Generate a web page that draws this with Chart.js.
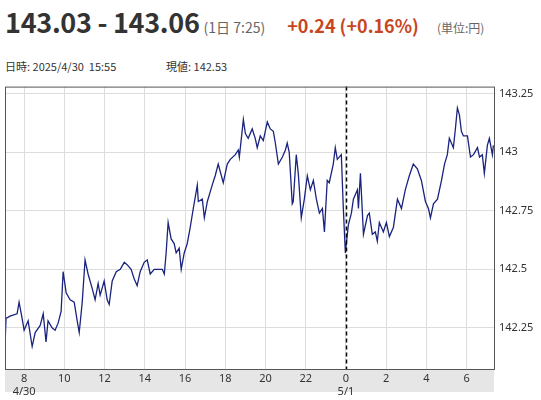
<!DOCTYPE html>
<html>
<head>
<meta charset="utf-8">
<script src="https://cdn.jsdelivr.net/npm/chart.js@4"></script>
<style>
  body { margin: 0; width: 541px; height: 400px; background: #fff; font-family: "Noto Sans CJK JP", "Noto Sans", sans-serif; position: relative; overflow: hidden; }
  .head { position: absolute; left: 5px; top: 2px; white-space: nowrap; }
  .price { font-size: 27px; font-weight: bold; color: #333; letter-spacing: -0.3px; }
  .time { font-size: 14px; color: #666; margin-left: 4px; }
  .chg { font-size: 18px; font-weight: bold; color: #c8461e; margin-left: 22px; }
  .unit { font-size: 12px; color: #666; margin-left: 18px; }
  .info { position: absolute; top: 58px; font-size: 11px; color: #333; }
  #wrap { position: absolute; left: 0; top: 75px; width: 541px; height: 320px; }
</style>
</head>
<body>
<div class="head"><span class="price">143.03 - 143.06</span><span class="time">(1日 7:25)</span><span class="chg">+0.24 (+0.16%)</span><span class="unit">(単位:円)</span></div>
<div class="info" style="left:5px">日時: 2025/4/30&nbsp; 15:55</div>
<div class="info" style="left:166px">現値: 142.53</div>
<div id="wrap"><canvas id="c"></canvas></div>
<script>
// hours since 4/30 00:00 (values > 24 are 5/1)
const hours = [7.05,7.10,7.30,7.65,7.75,7.90,8.00,8.20,8.40,8.55,8.80,8.95,9.09,9.19,9.39,9.54,9.69,9.84,9.94,10.09,10.29,10.49,10.64,10.74,10.89,11.03,11.18,11.38,11.53,11.68,11.78,11.98,12.13,12.23,12.38,12.58,12.78,12.98,13.12,13.32,13.47,13.62,13.77,13.97,14.12,14.27,14.47,14.67,14.87,14.97,15.06,15.16,15.31,15.46,15.56,15.71,15.81,15.96,16.11,16.26,16.41,16.61,16.66,16.86,16.96,17.11,17.35,17.50,17.65,17.90,18.10,18.25,18.50,18.65,18.70,18.90,19.00,19.14,19.34,19.49,19.59,19.74,19.89,20.09,20.24,20.39,20.49,20.64,20.84,20.99,21.08,21.18,21.33,21.38,21.53,21.63,21.78,21.93,22.08,22.23,22.38,22.53,22.68,22.83,22.93,23.07,23.17,23.37,23.47,23.57,23.77,23.87,23.97,24.12,24.27,24.37,24.57,24.62,24.72,24.87,25.07,25.16,25.31,25.46,25.56,25.66,25.86,26.01,26.16,26.36,26.56,26.76,26.95,27.15,27.35,27.55,27.75,27.95,28.10,28.20,28.35,28.55,28.75,28.90,29.04,29.14,29.34,29.44,29.54,29.64,29.74,29.84,30.04,30.19,30.34,30.54,30.64,30.78,30.88,31.03,31.13,31.28,31.33];
const prices = [142.17,142.29,142.30,142.31,142.36,142.29,142.24,142.28,142.17,142.23,142.26,142.31,142.19,142.28,142.25,142.24,142.27,142.32,142.49,142.40,142.37,142.36,142.28,142.23,142.36,142.54,142.48,142.42,142.37,142.44,142.39,142.45,142.37,142.35,142.45,142.49,142.50,142.53,142.52,142.50,142.46,142.43,142.49,142.53,142.54,142.48,142.50,142.50,142.50,142.48,142.57,142.70,142.63,142.61,142.57,142.59,142.50,142.57,142.61,142.68,142.76,142.86,142.79,142.80,142.72,142.79,142.86,142.90,142.95,142.87,142.95,142.97,142.99,143.01,142.98,143.14,143.08,143.06,143.10,143.06,143.02,143.07,143.05,143.13,143.10,143.09,143.04,142.95,142.98,143.01,143.04,143.00,142.78,142.79,142.99,142.91,142.72,142.80,142.90,142.84,142.88,142.80,142.74,142.76,142.66,142.88,142.87,142.95,143.02,142.97,142.99,142.76,142.57,142.69,142.74,142.80,142.84,142.76,142.91,142.65,142.73,142.74,142.65,142.66,142.62,142.70,142.66,142.70,142.64,142.68,142.80,142.76,142.84,142.90,142.95,142.93,142.88,142.79,142.76,142.72,142.78,142.80,142.88,142.95,142.99,143.06,143.02,143.10,143.19,143.16,143.09,143.07,143.07,142.98,142.99,143.02,142.98,142.99,142.91,143.03,143.06,142.99,143.03];
const dateLabels = { 8: "4/30", 24: "5/1" };
const priceTicks = [142.25, 142.5, 142.75, 143, 143.25];

const frame = {
  id: "frame",
  beforeDraw(chart) {
    const { ctx, chartArea: a, scales: { x } } = chart;
    ctx.save();
    ctx.fillStyle = "#e6e6e6";
    ctx.fillRect(a.left, a.bottom, a.right - a.left, 23);
    ctx.restore();
  },
  afterDraw(chart) {
    const { ctx, chartArea: a, scales: { x } } = chart;
    ctx.save();
    const px = Math.round(x.getPixelForValue(24)) + 0.5;
    ctx.strokeStyle = "#000";
    ctx.lineWidth = 1.5;
    ctx.setLineDash([4, 3]);
    ctx.beginPath();
    ctx.moveTo(px, a.top);
    ctx.lineTo(px, a.bottom);
    ctx.stroke();
    ctx.setLineDash([]);
    ctx.strokeStyle = "#555";
    ctx.lineWidth = 1;
    ctx.strokeRect(a.left + 0.5, a.top + 0.5, a.right - a.left, a.bottom - a.top);
    ctx.restore();
  }
};

new Chart(document.getElementById("c"), {
  type: "line",
  data: {
    datasets: [{
      data: hours.map((h, i) => ({ x: h, y: prices[i] })),
      borderColor: "#1a237e",
      borderWidth: 1.3,
      pointRadius: 0,
      tension: 0
    }]
  },
  options: {
    responsive: true,
    maintainAspectRatio: false,
    animation: false,
    layout: { padding: { left: 5, top: 2, right: 0, bottom: 0 } },
    plugins: { legend: { display: false }, tooltip: { enabled: false } },
    scales: {
      x: {
        type: "linear",
        min: 7.05,
        max: 31.36,
        grid: { color: "#dddddd", drawTicks: false },
        border: { display: false },
        afterFit: s => { s.height = 26; },
        afterBuildTicks: s => {
          s.ticks = [];
          for (let h = 8; h <= 30; h += 2) s.ticks.push({ value: h });
        },
        ticks: {
          color: "#333",
          font: { size: 11, family: "Noto Sans" },
          padding: 3,
          maxRotation: 0,
          autoSkip: false,
          callback: v => dateLabels[v] ? [String(v % 24), dateLabels[v]] : String(v % 24)
        }
      },
      y: {
        position: "right",
        min: 142.074,
        max: 143.281,
        grid: { color: "#dddddd", drawTicks: false },
        border: { display: false },
        afterFit: s => { s.width = 47; },
        afterBuildTicks: s => { s.ticks = priceTicks.map(v => ({ value: v })); },
        ticks: {
          color: "#333",
          font: { size: 11, family: "Noto Sans" },
          padding: 5,
          callback: v => String(+v.toFixed(2))
        }
      }
    }
  },
  plugins: [frame]
});
</script>
</body>
</html>
